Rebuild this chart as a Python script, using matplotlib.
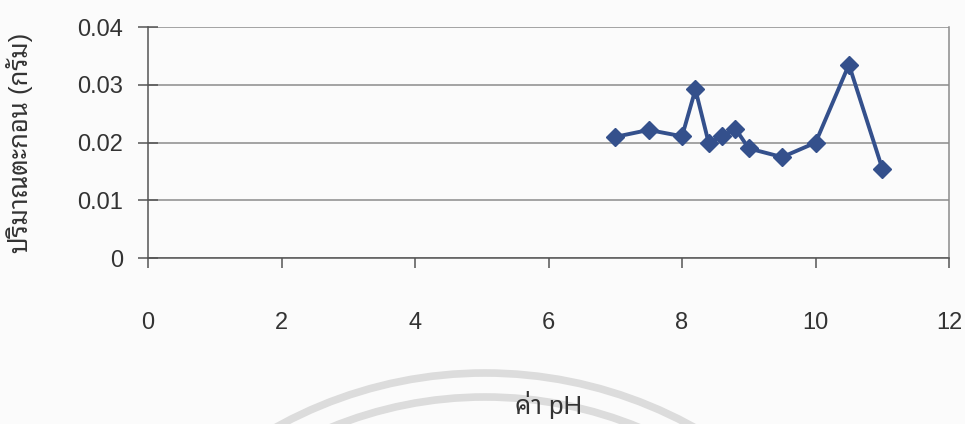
import matplotlib
matplotlib.use("Agg")
import matplotlib.pyplot as plt
from matplotlib.patches import Arc

# pH of the solution vs. mass of sediment collected (grams)
ph_values = [7.0, 7.5, 8.0, 8.2, 8.4, 8.6, 8.8, 9.0, 9.5, 10.0, 10.5, 11.0]
sediment_g = [0.0210, 0.0222, 0.0211, 0.0292, 0.0199, 0.0211, 0.0224,
              0.0190, 0.0175, 0.0200, 0.0335, 0.0155]

x_ticks = [0, 2, 4, 6, 8, 10, 12]
y_ticks = [0, 0.01, 0.02, 0.03, 0.04]
y_tick_labels = ["0", "0.01", "0.02", "0.03", "0.04"]

x_label = "ค่า pH"
y_label = "ปริมาณตะกอน (กรัม)"

line_color = "#34508C"
latin_font = ["Liberation Sans", "DejaVu Sans"]
thai_font = ["Liberation Sans", "Noto Sans Thai Looped", "DejaVu Sans"]

fig = plt.figure(figsize=(9.65, 4.24), dpi=100, facecolor="#fbfbfb")
ax = fig.add_axes([0.1534, 0.3908, 0.8301, 0.5455], zorder=1)
ax.set_facecolor("none")

# faint circular emblem printed behind the chart
for radius_px in (430, 406):
    fig.patches.append(Arc((485 / 965, 1 - 803 / 424),
                           2 * radius_px / 965, 2 * radius_px / 424,
                           theta1=0, theta2=180, transform=fig.transFigure,
                           color="#dcdcdc", lw=5.5, zorder=-1))

ax.plot(ph_values, sediment_g, color=line_color, lw=2.8, marker="D",
        markersize=9, markerfacecolor=line_color, markeredgecolor=line_color,
        zorder=3, clip_on=False)

ax.set_xlim(0, 12)
ax.set_ylim(0, 0.04)
ax.set_xticks(x_ticks)
ax.set_xticklabels([str(v) for v in x_ticks], family=latin_font, fontsize=17,
                   color="#333333")
ax.set_yticks(y_ticks)
ax.set_yticklabels(y_tick_labels, family=latin_font, fontsize=17,
                   color="#333333")

ax.yaxis.grid(True, color="#8c8c8c", lw=1.1)
ax.set_axisbelow(True)

for side in ("left", "bottom"):
    ax.spines[side].set_color("#555555")
    ax.spines[side].set_linewidth(1.1)
ax.spines["right"].set_color("#8c8c8c")
ax.spines["right"].set_linewidth(1.1)
ax.spines["top"].set_visible(False)

ax.tick_params(axis="x", direction="out", length=7.5, width=1.1,
               color="#555555", pad=31)
ax.tick_params(axis="y", direction="inout", length=15, width=1.1,
               color="#555555", pad=10.5)

ax.set_xlabel(x_label, family=thai_font, fontsize=18.5, color="#333333")
ax.xaxis.set_label_coords(0.5, -0.635)
ax.xaxis.label.set_va("center")
ax.set_ylabel(y_label, family=thai_font, fontsize=18.5, color="#333333")
ax.yaxis.set_label_coords(-0.16, 0.5)
ax.yaxis.label.set_va("center")

fig.savefig("out.png", dpi=100, facecolor=fig.get_facecolor())
